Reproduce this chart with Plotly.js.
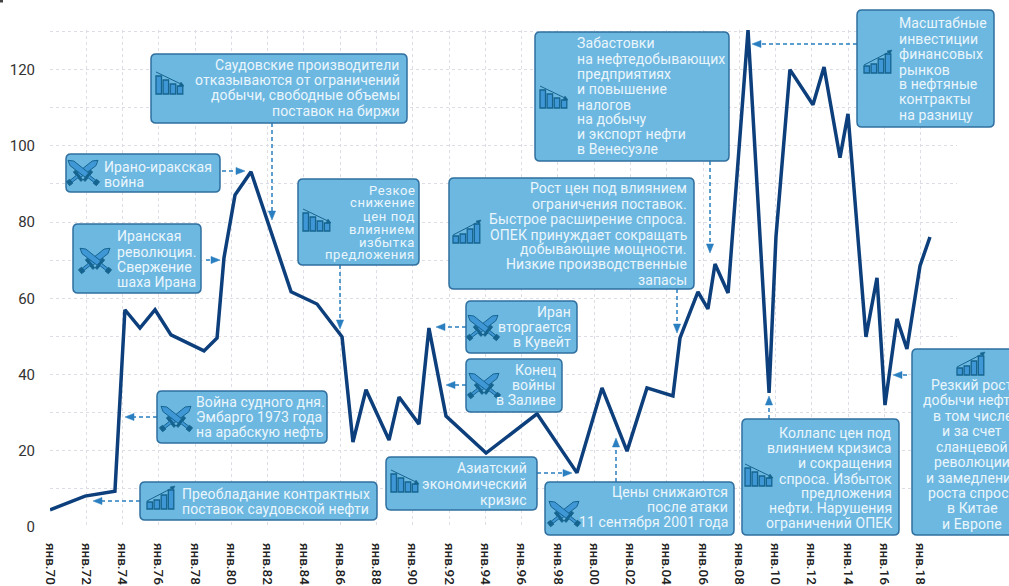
<!DOCTYPE html>
<html><head><meta charset="utf-8">
<script src="https://cdn.plot.ly/plotly-3.0.1.min.js"></script>
<style>html,body{margin:0;padding:0;background:#fff;overflow:hidden}
#c{width:1009px;height:586px}
.annotation-text{letter-spacing:.1px}
</style></head><body><div id="c"></div>
<script>
// Data (year as a fraction, price USD/bbl)
const years=[1970,1971.93,1973.58,1974.13,1974.96,1975.79,1976.67,1978.49,1979.21,1979.59,1980.2,1981.08,1983.29,1984.72,1986.1,1986.7,1987.42,1988.69,1989.24,1990.34,1990.89,1991.83,1994.04,1996.85,1999.05,2000.43,2001.81,2002.91,2004.34,2004.73,2005.72,2006.27,2006.66,2007.38,2008.48,2009.64,2010.02,2010.79,2012.06,2012.67,2013.55,2013.99,2014.98,2015.59,2016.03,2016.69,2017.24,2017.96,2018.51];
const prices=[4.5,8.1,9.4,57,52.2,57,50.4,46.2,49.6,70.6,87.1,93.2,61.7,58.5,49.9,22.3,36,22.8,34.1,27,52.2,29.1,19.4,29.7,14.2,36.5,19.9,36.5,34.4,49.6,61.7,57.2,69,61.4,130.4,35.2,76.1,120,110.8,120.7,96.9,108.4,49.9,65.4,32,54.6,46.7,68.5,76.1];
const xTickVals=[1970,1972,1974,1976,1978,1980,1982,1984,1986,1988,1990,1992,1994,1996,1998,2000,2002,2004,2006,2008,2010,2012,2014,2016,2018,2020];
const xTickText=['янв.70','янв.72','янв.74','янв.76','янв.78','янв.80','янв.82','янв.84','янв.86','янв.88','янв.90','янв.92','янв.94','янв.96','янв.98','янв.00','янв.02','янв.04','янв.06','янв.08','янв.10','янв.12','янв.14','янв.16','янв.18',''];
const yTickVals=[0,10,20,30,40,50,60,70,80,90,100,110,120,130];
const yTickText=['0','','20','','40','','60','','80','','100','','120',''];

// Call-out texts
const tSaudi=['Саудовские производители','отказываются от ограничений','добычи, свободные объемы','поставок на биржи'];
const tIranIraq=['Ирано-иракская','война'];
const tRevolution=['Иранская','революция.','Свержение','шаха Ирана'];
const tSharp=['Резкое','снижение','цен под','влиянием','избытка','предложения'];
const tYomKippur=['Война судного дня.','Эмбарго 1973 года','на арабскую нефть'];
const tContract=['Преобладание контрактных','поставок саудовской нефти'];
const tAsia=['Азиатский','экономический','кризис'];
const tSept=['Цены снижаются','после атаки','11 сентября 2001 года'];
const tCollapse=['Коллапс цен под','влиянием кризиса','и сокращения','спроса. Избыток','предложения','нефти. Нарушения','ограничений ОПЕК'];
const tShale=['Резкий рост','добычи нефти,','в том числе','и за счет','сланцевой','революции','и замедление','роста спроса','в Китае','и Европе'];
const tFinance=['Масштабные','инвестиции','финансовых','рынков','в нефтяные','контракты','на разницу'];
const tStrike=['Забастовки','на нефтедобывающих','предприятиях','и повышение','налогов','на добычу','и экспорт нефти','в Венесуэле'];
const tGrowth=['Рост цен под влиянием','ограничения поставок.','Быстрое расширение спроса.','ОПЕК принуждает сокращать','добывающие мощности.','Низкие производственные','запасы'];
const tKuwait=['Иран','вторгается','в Кувейт'];
const tGulf=['Конец','войны','в Заливе'];

// Layout of the picture, in page pixels
const M={l:50,r:52,t:30,b:59},W=1009,H=586;
const PW=W-M.l-M.r,PH=H-M.t-M.b;
const px=x=>(x-M.l)/PW, py=y=>1-(y-M.t)/PH;
const FILL='#6db8e1',EDGE='#2f6f9f',TXT='#eaf6fc',ICON='#3f97d6',ICOND='#15648f',ARROW='#2a7fc0';
const FONT='Roboto, sans-serif';

const boxes=[
 {b:[151,54,407,123],t:tSaudi,a:'right',x:401,ys:[65,80,95,111],ic:['d',170,83],ar:[272,123,272,220]},
 {b:[66,154,220,192],t:tIranIraq,a:'left',x:103,ys:[167,182],ic:['s',83,172],ar:[222,171,245,171]},
 {b:[73,224,201,293],t:tRevolution,a:'left',x:116,ys:[236,252,267,282],ic:['s',95,260],ar:[206,260,220,260]},
 {b:[298,179,419,265],t:tSharp,a:'right',x:416,fs:13,ls:.6,ys:[190,203,216,229,242,255],ic:['d',317,220],ar:[340,265,340,329]},
 {b:[157,391,327,443],t:tYomKippur,a:'left',x:195,ys:[402,417,432],ic:['s',176,418],ar:[157,417,125,417]},
 {b:[140,482,377,520],t:tContract,a:'left',x:181,ys:[494,509],ic:['u',161,498],ar:[140,501,93,501]},
 {b:[386,457,537,510],t:tAsia,a:'right',x:528,ys:[468,484,500],ic:['d',405,481],ar:[537,473,572,473]},
 {b:[545,482,734,535],t:tSept,a:'right',x:729,ys:[492,507,522],ic:['s',564,513],ar:[616,482,616,438]},
 {b:[742,419,899,535],t:tCollapse,a:'right',x:893,ys:[433,448,463,479,493,508,523],ic:['d',759,475],ar:[769,419,769,396]},
 {b:[912,349,1030,535],t:tShale,a:'center',x:972,ys:[385,400,416,431,447,462,478,493,508,524],ic:['u',971,364],ar:[907,375,893,375]},
 {b:[857,10,994,127],t:tFinance,a:'left',x:898,ys:[23,39,54,70,84,99,115],ic:['u',878,62],ar:[857,44,752,44]},
 {b:[535,32,729,161],t:tStrike,a:'left',x:576,ys:[43,59,74,89,105,119,134,149],ic:['d',554,97],ar:[710,161,710,253]},
 {b:[449,178,694,289],t:tGrowth,a:'right',x:688,ys:[188,204,219,235,249,264,280],ic:['u',467,232],ar:[677,289,677,333]},
 {b:[466,301,577,353],t:tKuwait,a:'right',x:572,ys:[312,327,342],ic:['s',483,327],ar:[466,327,436,327]},
 {b:[466,359,562,412],t:tGulf,a:'right',x:557,ys:[370,385,400],ic:['s',484,385],ar:[466,385,446,385]}
];

const P=(x,y)=>px(x).toFixed(5)+','+py(y).toFixed(5);
function poly(pts){return 'M'+pts.map(p=>P(p[0],p[1])).join('L')+'Z';}
function rrect(x0,y0,x1,y1,r){
 return 'M'+P(x0+r,y0)+'L'+P(x1-r,y0)+'Q'+P(x1,y0)+' '+P(x1,y0+r)+'L'+P(x1,y1-r)+'Q'+P(x1,y1)+' '+P(x1-r,y1)+
  'L'+P(x0+r,y1)+'Q'+P(x0,y1)+' '+P(x0,y1-r)+'L'+P(x0,y0+r)+'Q'+P(x0,y0)+' '+P(x0+r,y0)+'Z';
}
function pathShape(d,fill,line,w){return {type:'path',xref:'paper',yref:'paper',path:d,fillcolor:fill,line:{color:line,width:w},layer:'above'};}
function segShape(x0,y0,x1,y1,c,w,dash){return {type:'line',xref:'paper',yref:'paper',x0:px(x0),y0:py(y0),x1:px(x1),y1:py(y1),line:{color:c,width:w,dash:dash||'solid'},layer:'above'};}

function sword(cx,cy,sx){
 // local u along the blade, v across it; two mirrored swords make the icon
 const a=-38*Math.PI/180, c=Math.cos(a), s=Math.sin(a);
 const T=(u,v)=>[cx+sx*(u*c-v*s),cy+(u*s+v*c)];
 const out=[];
 out.push(pathShape(poly([T(-6,-2.8),T(14,-3),T(19,0),T(14,3),T(-6,2.8)]),ICON,ICOND,1));
 out.push(pathShape(poly([T(-7.5,-6),T(-5,-6),T(-5,6),T(-7.5,6)]),ICOND,ICOND,1));
 out.push(pathShape(poly([T(-15,-1.4),T(-7,-1.4),T(-7,1.4),T(-15,1.4)]),ICON,ICOND,1));
 out.push(pathShape(poly([T(-19,-2.5),T(-15,-2.5),T(-15,2.5),T(-19,2.5)]),ICOND,ICOND,1));
 return out;
}
function bars(cx,cy,hs,slopeUp){
 const out=[],bw=5.5,gap=1.6,base=cy+11,x0=cx-14;
 hs.forEach((h,i)=>{
  const x=x0+i*(bw+gap);
  out.push(pathShape(poly([[x,base-h],[x+bw,base-h],[x+bw,base],[x,base]]),ICON,ICOND,1.3));
 });
 const yA=slopeUp?cy+3:cy-11, yB=slopeUp?cy-11:cy+2;
 out.push(segShape(x0,yA,x0+27,yB,ICOND,1));
 out.push(pathShape(slopeUp?poly([[x0+28,yB-1],[x0+23,yB],[x0+26,yB+3]]):poly([[x0+28,yB+1],[x0+23,yB+1],[x0+25,yB-3]]),ICOND,ICOND,.5));
 return out;
}
function arrow(a){
 const [x0,y0,x1,y1]=a, L=Math.hypot(x1-x0,y1-y0), ux=(x1-x0)/L, uy=(y1-y0)/L, h=9, w=3.6;
 const bx=x1-ux*h, by=y1-uy*h;
 return [segShape(x0,y0,bx,by,ARROW,1.5,'4px,3px'),
  pathShape(poly([[x1,y1],[bx-uy*w,by+ux*w],[bx+uy*w,by-ux*w]]),ARROW,ARROW,.5)];
}

const shapes=[{type:'rect',xref:'paper',yref:'paper',x0:px(0),x1:px(3),y0:py(0),y1:py(2.5),fillcolor:'#444',line:{width:0}}];
const annotations=[];
boxes.forEach(o=>{
 shapes.push(...arrow(o.ar));
 shapes.push(pathShape(rrect(o.b[0],o.b[1],o.b[2],o.b[3],5),FILL,EDGE,1.5));
 const [k,ix,iy]=o.ic;
 if(k==='s'){shapes.push(...sword(ix,iy,1),...sword(ix,iy,-1));}
 if(k==='u'){shapes.push(...bars(ix,iy,[7,9,14,19],true));}
 if(k==='d'){shapes.push(...bars(ix,iy,[18,14,10,8],false));}
 o.t.forEach((s,i)=>annotations.push({xref:'paper',yref:'paper',x:px(o.x),y:py(o.ys[i]),xanchor:o.a,yanchor:'middle',align:o.a,
   showarrow:false,text:o.ls?'<span style="letter-spacing:'+o.ls+'px">'+s+'</span>':s,borderpad:0,font:{family:FONT,size:o.fs||14,color:TXT}}));
});

const GRID='#dddde6';
Plotly.newPlot('c',[{type:'scatter',mode:'lines',x:years,y:prices,line:{color:'#0c3f7b',width:3.5,shape:'linear'},cliponaxis:false,hoverinfo:'skip'}],{
 width:W,height:H,margin:M,paper_bgcolor:'#fff',plot_bgcolor:'#fff',showlegend:false,
 xaxis:{type:'linear',range:[1970,2020],tickmode:'array',tickvals:xTickVals,ticktext:xTickText,tickangle:90,ticks:'',ticklabelstandoff:15,
   tickfont:{family:FONT,size:13.5,color:'#222',weight:500},showgrid:true,gridcolor:GRID,griddash:'dot',gridwidth:1,zeroline:false,showline:false},
 yaxis:{type:'linear',range:[0,130.4],tickmode:'array',tickvals:yTickVals,ticktext:yTickText,ticks:'',ticklabelstandoff:14,
   tickfont:{family:FONT,size:15,color:'#333'},showgrid:true,gridcolor:GRID,griddash:'dot',gridwidth:1,zeroline:false,showline:false},
 shapes,annotations
},{displayModeBar:false,responsive:false,staticPlot:true});
</script></body></html>
